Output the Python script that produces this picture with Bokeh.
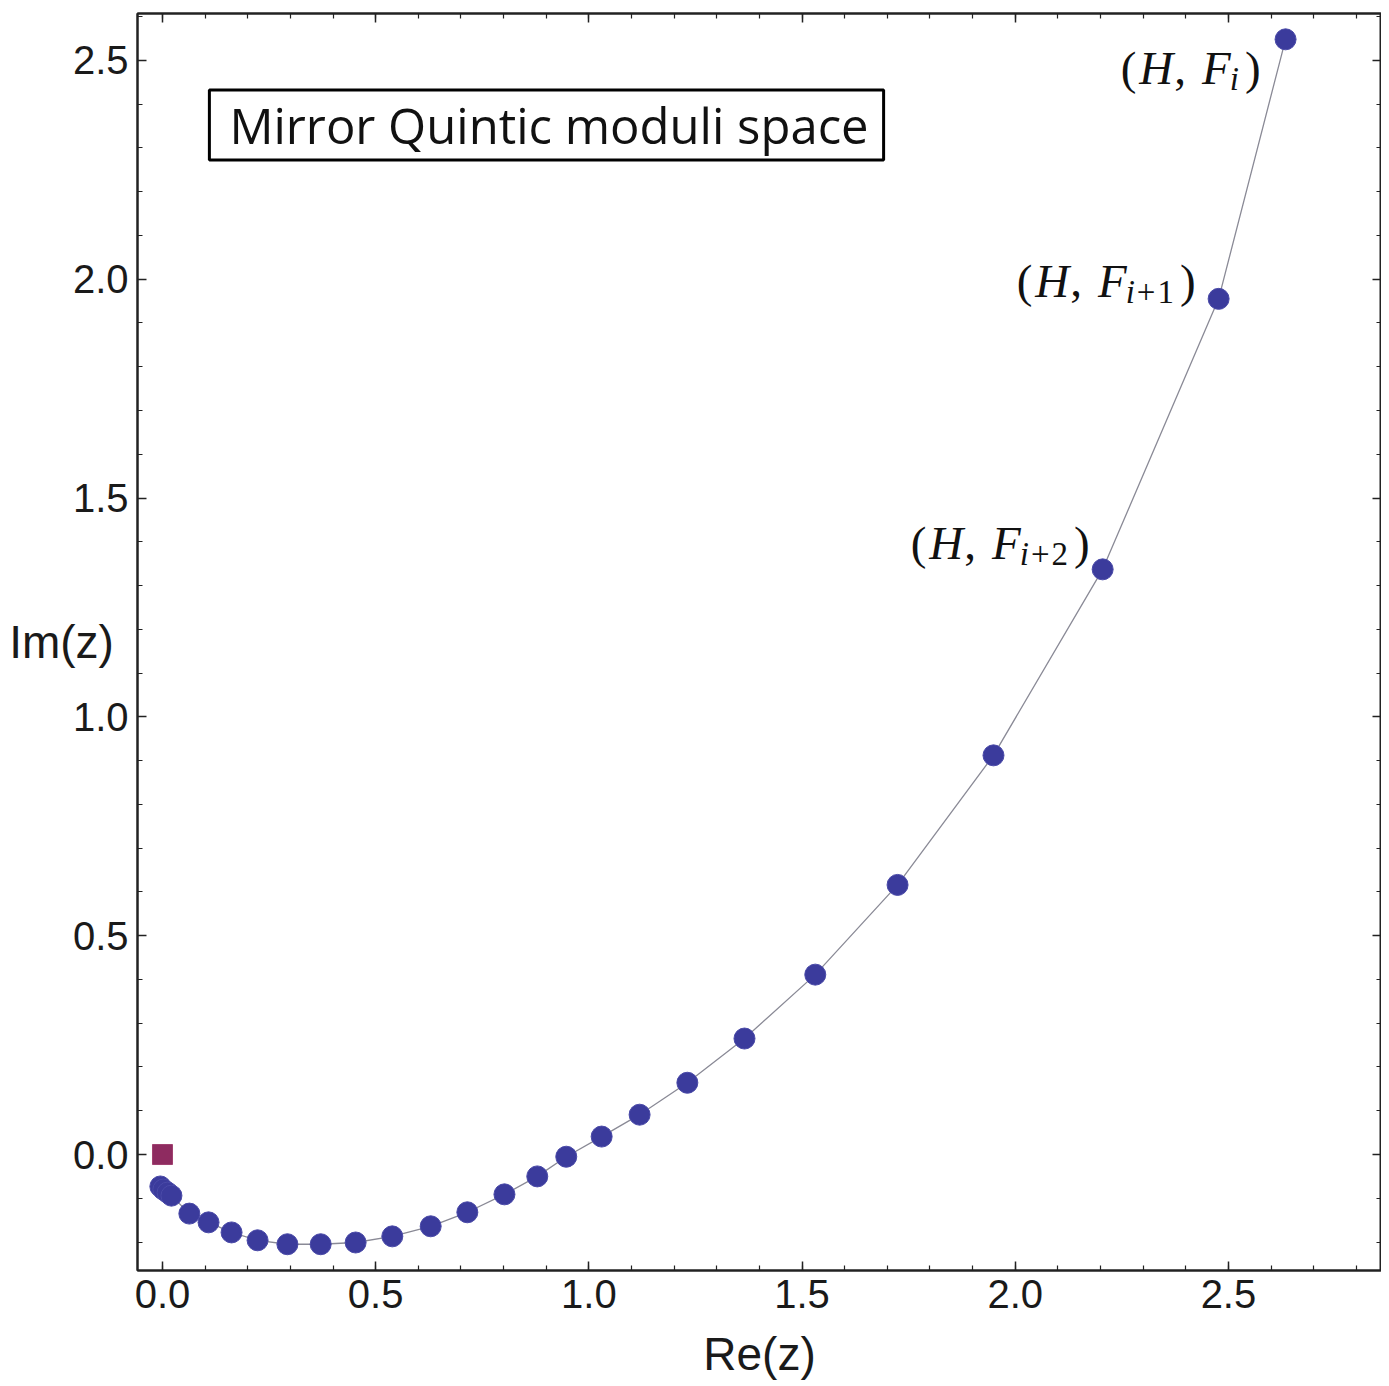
from bokeh.plotting import figure
from bokeh.models import (Range1d, LinearAxis, SingleIntervalTicker, PrintfTickFormatter,
                          CustomJSTickFormatter, Label, ColumnDataSource)
from bokeh.embed import file_html
from bokeh.resources import INLINE

# --- data ---
re_z = [-0.005, 0.002, 0.012, 0.021, 0.063, 0.108, 0.162, 0.223, 0.293, 0.371,
        0.453, 0.539, 0.629, 0.715, 0.802, 0.879, 0.947, 1.030, 1.119, 1.231,
        1.365, 1.531, 1.724, 1.949, 2.205, 2.477, 2.634]
im_z = [-0.073, -0.080, -0.087, -0.094, -0.135, -0.155, -0.178, -0.196, -0.205, -0.205,
        -0.201, -0.187, -0.164, -0.132, -0.091, -0.050, -0.005, 0.041, 0.091, 0.164,
        0.265, 0.411, 0.616, 0.912, 1.337, 1.955, 2.548]
origin_re = [0.0]
origin_im = [0.0]
title_text = "Mirror Quintic moduli space"
x_label = "Re(z)"
y_label = "Im(z)"

X0, X1 = -0.0586, 2.859
Y0, Y1 = -0.265, 2.607

p = figure(width=1381, height=1382, output_backend="svg", toolbar_location=None,
           x_range=Range1d(X0, X1), y_range=Range1d(Y0, Y1),
           min_border_left=137, min_border_right=0, min_border_top=13, min_border_bottom=110)
p.background_fill_color = "white"
p.border_fill_color = "white"
p.outline_line_color = "#222222"
p.outline_line_width = 2
p.xgrid.visible = False
p.ygrid.visible = False

FONT = "Liberation Sans"
def style_axis(ax, labels=True):
    ax.ticker = SingleIntervalTicker(interval=0.5, num_minor_ticks=5)
    ax.axis_line_color = "#222222"
    ax.axis_line_width = 2
    ax.major_tick_in = 9
    ax.major_tick_out = 0
    ax.minor_tick_in = 5
    ax.minor_tick_out = 0
    ax.major_tick_line_color = "#222222"
    ax.minor_tick_line_color = "#222222"
    ax.major_tick_line_width = 1.5
    ax.minor_tick_line_width = 1.2
    if labels:
        ax.formatter = PrintfTickFormatter(format="%.1f")
        ax.major_label_text_font = FONT
        ax.major_label_text_font_size = "40px"
        ax.major_label_text_color = "#1a1a1a"
        ax.major_label_standoff = 9
        ax.axis_label_text_font = FONT
        ax.axis_label_text_font_size = "46px"
        ax.axis_label_text_font_style = "normal"
        ax.axis_label_text_color = "#1a1a1a"
    else:
        ax.formatter = CustomJSTickFormatter(code="return ''")
        ax.major_label_text_font_size = "0px"

style_axis(p.xaxis[0])
style_axis(p.yaxis[0])
p.xaxis[0].axis_label = x_label
p.xaxis[0].axis_label_standoff = 17
p.yaxis[0].axis_label = y_label
p.yaxis[0].axis_label_orientation = "horizontal"
p.yaxis[0].axis_label_standoff = -44

top_ax = LinearAxis()
right_ax = LinearAxis()
style_axis(top_ax, labels=False)
style_axis(right_ax, labels=False)
p.add_layout(top_ax, "above")
p.add_layout(right_ax, "right")

src = ColumnDataSource(data=dict(x=re_z, y=im_z))
p.line("x", "y", source=src, line_color="#8a8a96", line_width=1.3)
p.scatter("x", "y", source=src, size=21, marker="circle",
          fill_color="#3b3b9c", line_color="#4a4aa8", line_width=1)
p.scatter(origin_re, origin_im, size=20, marker="square",
          fill_color="#8e2b60", line_color="#a04070", line_width=1)

# title box
p.add_layout(Label(x=0.110, y=2.352, text=title_text, text_font="Open Sans",
                   text_font_size="49px", text_color="#111111",
                   text_align="left", text_baseline="middle",
                   padding=dict(left=20, right=15, top=2, bottom=2),
                   border_line_color="black", border_line_width=3,
                   background_fill_color="white"))

# math-like annotations next to the three top points
SERIF = "Liberation Serif"
W = {"(": 0.333, ")": 0.333, ",": 0.25, "H": 0.722, "F": 0.611, "i": 0.278,
     "+": 0.564, "1": 0.5, "2": 0.5}
MAIN, SUB = 47, 33

def math_label(ix, right_gap, base_dy, sub_text):
    # segments: (text, style, size, gap_before, rise)
    segs = [("(", "normal", MAIN, 0, 0), ("H", "italic", MAIN, 3, 0),
            (",", "normal", MAIN, 1, 0), ("F", "italic", MAIN, 16, 0)]
    first = True
    for ch in sub_text:
        segs.append((ch, "italic" if ch == "i" else "normal", SUB, -1 if first else 2, -11))
        first = False
    segs.append((")", "normal", MAIN, 6, 0))
    pos, offs = 0.0, []
    for txt, style, size, gap, rise in segs:
        pos += gap
        offs.append(pos)
        pos += W[txt] * size
    start = right_gap - pos
    xp, yp = re_z[ix], im_z[ix]
    for (txt, style, size, gap, rise), o in zip(segs, offs):
        p.add_layout(Label(x=xp, y=yp, x_offset=start + o, y_offset=base_dy + rise, text=txt,
                           text_font=SERIF, text_font_style=style,
                           text_font_size=f"{size}px", text_color="#111111",
                           text_align="left", text_baseline="alphabetic"))

n = len(re_z)
math_label(n - 1, -25, -29, "i")
math_label(n - 2, -23, 18, "i+1")
math_label(n - 3, -13, 26, "i+2")

open("out.html", "w").write(file_html(p, INLINE))
